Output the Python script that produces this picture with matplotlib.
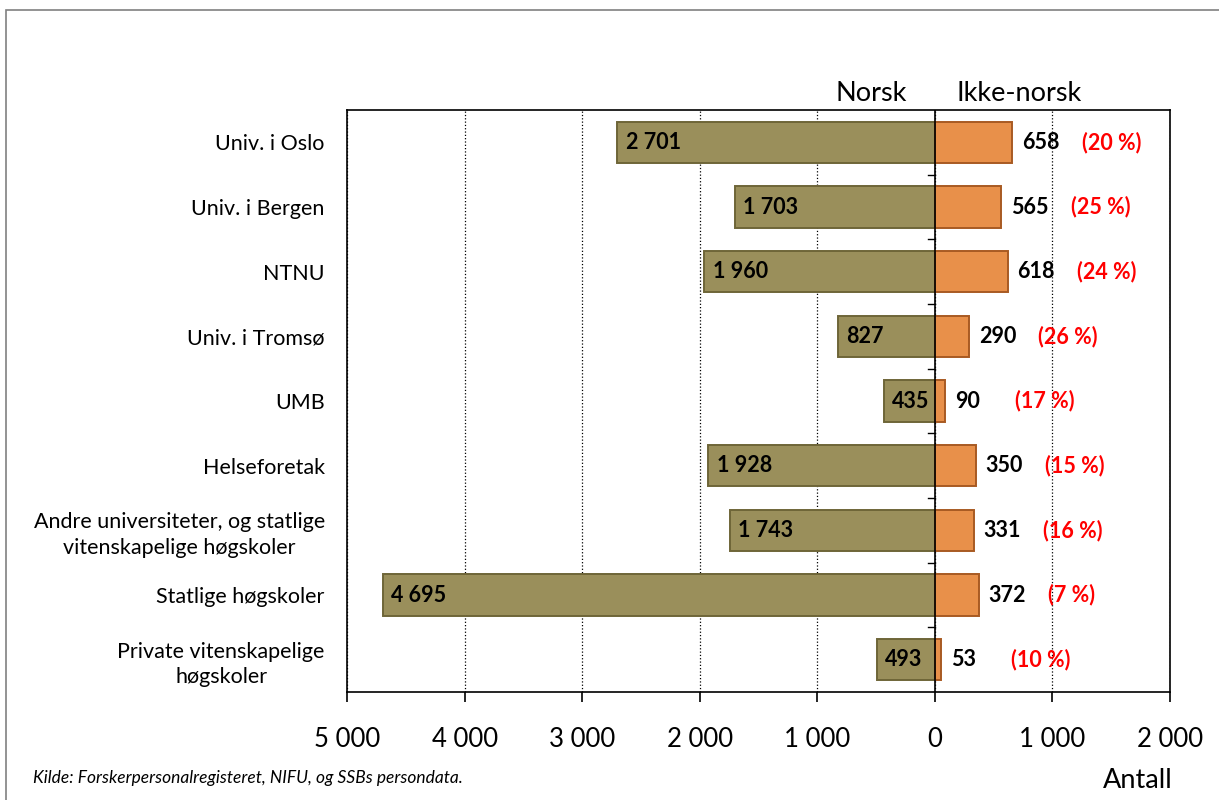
import matplotlib.pyplot as plt
from matplotlib.patches import Rectangle
from matplotlib.ticker import FuncFormatter

# ---------------- DATA ----------------
CATEGORIES = [
    "Univ. i Oslo",
    "Univ. i Bergen",
    "NTNU",
    "Univ. i Tromsø",
    "UMB",
    "Helseforetak",
    "Andre universiteter, og statlige\nvitenskapelige høgskoler",
    "Statlige høgskoler",
    "Private vitenskapelige\nhøgskoler",
]
NORSK = [2701, 1703, 1960, 827, 435, 1928, 1743, 4695, 493]
IKKE_NORSK = [658, 565, 618, 290, 90, 350, 331, 372, 53]
PCT = [20, 25, 24, 26, 17, 15, 16, 7, 10]

X_TICKS = [-5000, -4000, -3000, -2000, -1000, 0, 1000, 2000]
SOURCE = "Kilde: Forskerpersonalregisteret, NIFU, og SSBs persondata."
# --------------------------------------

OLIVE = "#9A8F5B"
OLIVE_EDGE = "#6E6538"
ORANGE = "#E8904A"
ORANGE_EDGE = "#A85A22"

plt.rcParams["font.family"] = ["Lato", "DejaVu Sans"]


def fmt_thousands(v, _pos=None):
    return f"{abs(int(round(v))):,}".replace(",", " ")


def main():
    fig = plt.figure(figsize=(12.19, 8), dpi=100)
    ax = fig.add_axes([0.2847, 0.135, 0.6751, 0.7275])

    y = list(range(len(CATEGORIES)))
    h = 0.64

    ax.barh(y, [-v for v in NORSK], height=h, color=OLIVE,
            edgecolor=OLIVE_EDGE, linewidth=1.4, zorder=3)
    ax.barh(y, IKKE_NORSK, height=h, color=ORANGE,
            edgecolor=ORANGE_EDGE, linewidth=1.4, zorder=3)

    for yi, n, k, p in zip(y, NORSK, IKKE_NORSK, PCT):
        ax.annotate(fmt_thousands(n), (-n, yi), xytext=(6, 0),
                    textcoords="offset points", ha="left", va="center",
                    fontsize=15.5, fontweight="bold", zorder=4)
        ax.annotate(fmt_thousands(k), (k, yi), xytext=(7, 0),
                    textcoords="offset points", ha="left", va="center",
                    fontsize=15.5, fontweight="bold", zorder=4)
        ax.annotate(f"({p} %)", (k, yi), xytext=(50, 0),
                    textcoords="offset points", ha="left", va="center",
                    fontsize=15.5, fontweight="bold", color="red", zorder=4)

    ax.set_xlim(-5000, 2000)
    ax.set_ylim(len(CATEGORIES) - 0.5, -0.5)

    ax.set_xticks(X_TICKS)
    ax.xaxis.set_major_formatter(FuncFormatter(fmt_thousands))
    ax.tick_params(axis="x", direction="out", length=7, width=1.2,
                   labelsize=18.5, pad=18)

    ax.set_yticks(y)
    ax.set_yticklabels(CATEGORIES, fontsize=15.5, multialignment="center",
                       linespacing=1.35)
    ax.tick_params(axis="y", length=0, pad=16)

    ax.grid(axis="x", linestyle=":", color="black", linewidth=0.9, zorder=0)
    ax.set_axisbelow(True)

    # zero line with small category-separator ticks
    ax.axvline(0, color="black", linewidth=1.2, zorder=5)
    for b in range(1, len(CATEGORIES)):
        ax.plot([-60, 0], [b - 0.5, b - 0.5], color="black",
                linewidth=1.0, zorder=5)

    for s in ax.spines.values():
        s.set_linewidth(1.2)
        s.set_color("black")

    ax.text(-540, -0.75, "Norsk", fontsize=19.5, ha="center", va="center")
    ax.text(720, -0.75, "Ikke-norsk", fontsize=19.5, ha="center",
            va="center")

    fig.text(0.027, 0.027, SOURCE, fontsize=12.5, style="italic",
             ha="left", va="center")
    fig.text(0.933, 0.024, "Antall", fontsize=19.5, ha="center",
             va="center")

    fig.patches.append(Rectangle((0.005, -0.01), 1.2, 0.997,
                                 transform=fig.transFigure, fill=False,
                                 edgecolor="#808080", linewidth=1.2))

    fig.savefig("out.png", dpi=100)


if __name__ == "__main__":
    main()
